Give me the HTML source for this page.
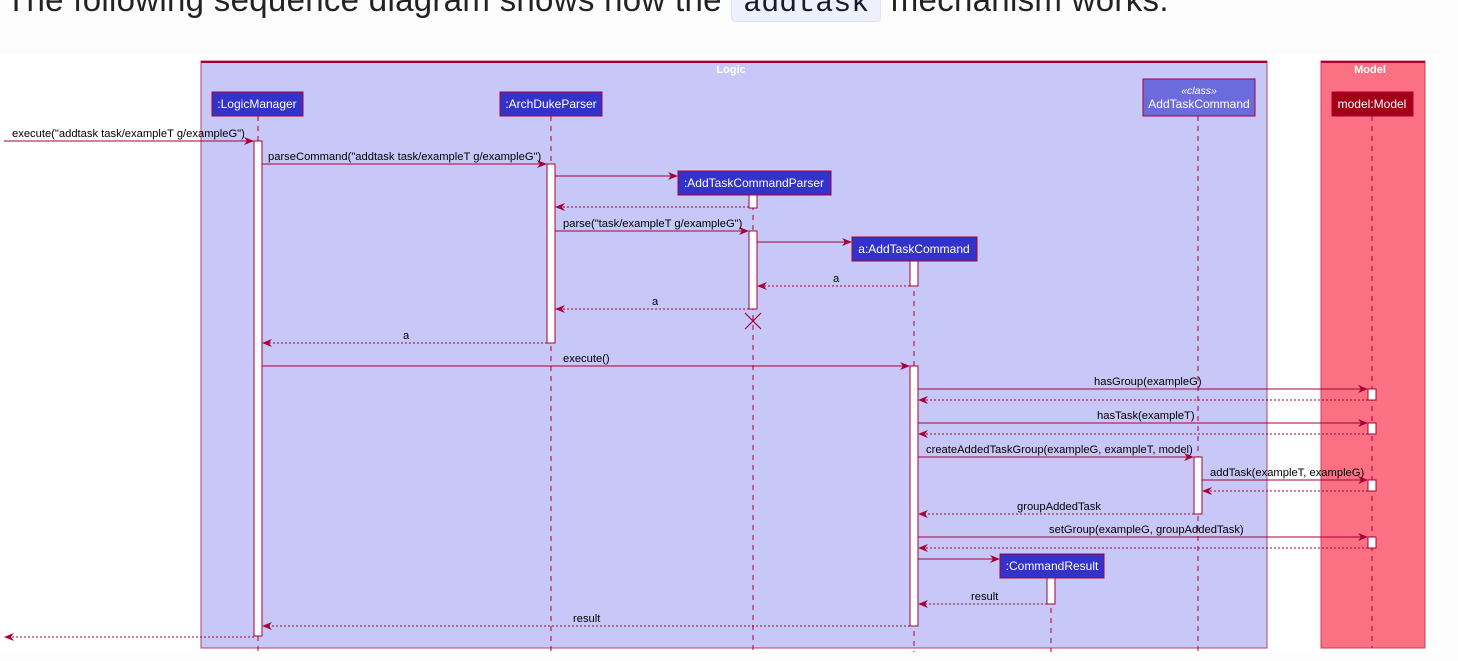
<!DOCTYPE html>
<html><head><meta charset="utf-8"><style>
body{margin:0;width:1458px;height:661px;overflow:hidden;background:#fdfdfd;position:relative;font-family:"Liberation Sans",sans-serif}
.h{position:absolute;left:6px;top:-19px;font-size:33px;color:#222;white-space:nowrap;letter-spacing:0.3px}
.c{font-family:"Liberation Mono",monospace;background:#eef0fb;border:1px solid #e2e4f0;border-radius:4px;padding:0 11px;color:#1a1a2e;font-size:30px;letter-spacing:0}
svg{position:absolute;left:0;top:0}
</style></head><body>
<div class="h">The following sequence diagram shows how the <span class="c">addtask</span> mechanism works.</div>
<svg width="1458" height="661" xmlns="http://www.w3.org/2000/svg" font-family="Liberation Sans, sans-serif" font-size="11.2">
<defs>
<marker id="a" markerWidth="10" markerHeight="8" refX="9" refY="4" orient="auto" markerUnits="userSpaceOnUse"><path d="M0,0 L10,4 L0,8 L3,4 Z" fill="#a80036"/></marker>
</defs>
<rect x="0" y="54" width="1440" height="598" fill="#fff"/>
<rect x="201" y="61" width="1066" height="587" fill="#c8c8f8" stroke="#b0456a" stroke-width="1"/>
<line x1="201" y1="62" x2="1267" y2="62" stroke="#a80036" stroke-width="2"/>
<text x="731" y="73" fill="#fff" font-weight="bold" font-size="11" text-anchor="middle">Logic</text>
<rect x="1321" y="61" width="104" height="587" fill="#fb7082" stroke="#c0405a"/>
<line x1="1321" y1="62" x2="1425" y2="62" stroke="#a80036" stroke-width="2"/>
<text x="1370" y="73" fill="#fff" font-weight="bold" font-size="11" text-anchor="middle">Model</text>
<g stroke="#a80036" stroke-dasharray="5,5" stroke-width="1">
<line x1="258" y1="116" x2="258" y2="652"/>
<line x1="551" y1="116" x2="551" y2="652"/>
<line x1="753" y1="195" x2="753" y2="652"/>
<line x1="914" y1="261" x2="914" y2="652"/>
<line x1="1198" y1="116" x2="1198" y2="652"/>
<line x1="1372" y1="116" x2="1372" y2="648"/>
<line x1="1051" y1="578" x2="1051" y2="652"/>
</g>
<g stroke="#a80036" fill="#3333cc">
<rect x="212" y="92" width="91" height="24"/>
<rect x="500" y="92" width="102" height="24"/>
<rect x="678" y="171" width="153" height="24"/>
<rect x="852" y="237" width="125" height="24"/>
<rect x="1000" y="554" width="104" height="24"/>
<rect x="1143" y="79" width="112" height="37" fill="#6b6bdd"/>
<rect x="1332" y="92" width="81" height="24" fill="#a30018"/>
</g>
<g fill="#fff" font-size="12" text-anchor="middle">
<text x="257" y="108">:LogicManager</text>
<text x="551" y="108">:ArchDukeParser</text>
<text x="754" y="187">:AddTaskCommandParser</text>
<text x="914" y="253">a:AddTaskCommand</text>
<text x="1052" y="570">:CommandResult</text>
<text x="1199" y="94" font-style="italic" font-size="10.5">«class»</text>
<text x="1199" y="108">AddTaskCommand</text>
<text x="1372" y="108">model:Model</text>
</g>
<g fill="#fff" stroke="#a80036">
<rect x="254" y="141" width="8" height="495"/>
<rect x="547" y="164" width="8" height="179"/>
<rect x="749" y="195" width="8" height="13"/>
<rect x="749" y="231" width="8" height="78"/>
<rect x="910" y="261" width="8" height="25"/>
<rect x="910" y="366" width="8" height="260"/>
<rect x="1194" y="457" width="8" height="57"/>
<rect x="1368" y="389" width="8" height="11"/>
<rect x="1368" y="423" width="8" height="11"/>
<rect x="1368" y="480" width="8" height="11"/>
<rect x="1368" y="537" width="8" height="11"/>
<rect x="1047" y="578" width="8" height="26"/>
</g>
<g stroke="#a80036" stroke-width="1.2"><line x1="745" y1="313" x2="761" y2="329"/><line x1="761" y1="313" x2="745" y2="329"/></g>
<g stroke="#a80036" fill="none" marker-end="url(#a)">
<line x1="4" y1="141" x2="253" y2="141"/>
<line x1="262" y1="164" x2="546" y2="164"/>
<line x1="555" y1="176" x2="677" y2="176"/>
<line x1="555" y1="231" x2="748" y2="231"/>
<line x1="757" y1="242" x2="851" y2="242"/>
<line x1="262" y1="366" x2="909" y2="366"/>
<line x1="918" y1="389" x2="1367" y2="389"/>
<line x1="918" y1="423" x2="1367" y2="423"/>
<line x1="918" y1="457" x2="1193" y2="457"/>
<line x1="1202" y1="480" x2="1367" y2="480"/>
<line x1="918" y1="537" x2="1367" y2="537"/>
<line x1="918" y1="559" x2="999" y2="559"/>
</g>
<g stroke="#a80036" fill="none" stroke-dasharray="2,2" marker-end="url(#a)">
<line x1="749" y1="207" x2="556" y2="207"/>
<line x1="910" y1="286" x2="758" y2="286"/>
<line x1="749" y1="309" x2="556" y2="309"/>
<line x1="547" y1="343" x2="263" y2="343"/>
<line x1="1368" y1="400" x2="919" y2="400"/>
<line x1="1368" y1="434" x2="919" y2="434"/>
<line x1="1368" y1="491" x2="1203" y2="491"/>
<line x1="1194" y1="514" x2="919" y2="514"/>
<line x1="1368" y1="548" x2="919" y2="548"/>
<line x1="1047" y1="604" x2="919" y2="604"/>
<line x1="910" y1="626" x2="263" y2="626"/>
<line x1="254" y1="637" x2="5" y2="637"/>
</g>
<g fill="#000">
<text x="12" y="137">execute("addtask task/exampleT g/exampleG")</text>
<text x="268" y="160">parseCommand("addtask task/exampleT g/exampleG")</text>
<text x="563" y="227">parse("task/exampleT g/exampleG")</text>
<text x="833" y="282">a</text>
<text x="652" y="305">a</text>
<text x="403" y="339">a</text>
<text x="563" y="362">execute()</text>
<text x="1094" y="385">hasGroup(exampleG)</text>
<text x="1097" y="419">hasTask(exampleT)</text>
<text x="926" y="453">createAddedTaskGroup(exampleG, exampleT, model)</text>
<text x="1210" y="476">addTask(exampleT, exampleG)</text>
<text x="1017" y="510">groupAddedTask</text>
<text x="1049" y="533">setGroup(exampleG, groupAddedTask)</text>
<text x="971" y="600">result</text>
<text x="573" y="622">result</text>
</g>
</svg>
</body></html>
